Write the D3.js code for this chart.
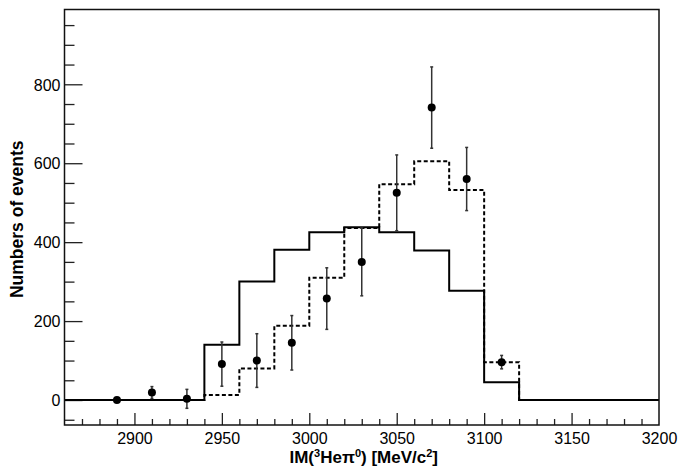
<!DOCTYPE html>
<html>
<head>
<meta charset="utf-8">
<script src="https://cdn.jsdelivr.net/npm/d3@7"></script>
<style>
  body { margin: 0; background: #fff; }
  svg { display: block; }
  text { font-family: "Liberation Sans", Arial, Helvetica, sans-serif; fill: #000; }
</style>
</head>
<body>
<svg id="chart" width="683" height="468"></svg>
<script>
// bins (low edges, width 20 MeV/c2)
const binLow = [2860, 2880, 2900, 2920, 2940, 2960, 2980, 3000, 3020, 3040, 3060, 3080, 3100, 3120, 3140, 3160, 3180];
const binWidth = 20;
// solid histogram
const solidCounts = [0, 0, 0, 0, 140, 300, 381, 425, 438, 425, 379, 277, 45, 0, 0, 0, 0];
// dashed histogram
const dashedCounts = [0, 0, 0, 0, 13, 80, 188, 310, 436, 547, 605, 532, 96, 0, 0, 0, 0];

// data points with errors
const dataX = [2890, 2910, 2930, 2950, 2970, 2990, 3010, 3030, 3050, 3070, 3090, 3110];
const dataY = [0, 19, 3, 91, 100, 145, 257, 350, 525, 741, 560, 96];
const dataErr = [0, 15, 24, 56, 68, 69, 78, 86, 96, 103, 80, 17];

const xTicks = [2900, 2950, 3000, 3050, 3100, 3150, 3200];
const yTicks = [0, 200, 400, 600, 800];

const svg = d3.select("#chart");
const mLeft = 64.5, mRight = 659, mTop = 9.5, mBottom = 425;

const x = d3.scaleLinear().domain([2860, 3200]).range([mLeft, mRight]);
const y = d3.scaleLinear().domain([-63.3, 989.5]).range([mBottom, mTop]);

// axes ticks (inside the frame)
const gx = svg.append("g").attr("transform", `translate(0,${mBottom})`)
  .call(d3.axisBottom(x).tickValues(d3.range(2870, 3200, 10)).tickSize(0).tickFormat(""));
gx.select(".domain").remove();
gx.selectAll(".tick line")
  .attr("y2", d => (d % 50 === 0 ? -12 : -6))
  .attr("stroke", "#222").attr("stroke-width", 1.3);

svg.append("g").attr("transform", `translate(0,${mBottom})`)
  .call(d3.axisBottom(x).tickValues(xTicks).tickSize(0).tickPadding(0).tickFormat(d3.format("d")))
  .call(g => g.select(".domain").remove())
  .selectAll("text")
  .attr("y", 18.5).attr("dy", 0)
  .style("font-size", "16px");

const gy = svg.append("g").attr("transform", `translate(${mLeft},0)`)
  .call(d3.axisLeft(y).tickValues(d3.range(-50, 1000, 50)).tickSize(0).tickFormat(""));
gy.select(".domain").remove();
gy.selectAll(".tick line")
  .attr("x2", d => (d % 200 === 0 ? 18 : 10))
  .attr("stroke", "#222").attr("stroke-width", 1.3);

svg.append("g").attr("transform", `translate(${mLeft},0)`)
  .call(d3.axisLeft(y).tickValues(yTicks).tickSize(0).tickPadding(4).tickFormat(d3.format("d")))
  .call(g => g.select(".domain").remove())
  .selectAll("text")
  .attr("dy", "0.36em")
  .style("font-size", "16px");

// histograms as steps
function stepPoints(counts) {
  const pts = binLow.map((b, i) => [b, counts[i]]);
  pts.push([binLow[binLow.length - 1] + binWidth, counts[counts.length - 1]]);
  return pts;
}
const step = d3.line().x(d => x(d[0])).y(d => y(d[1])).curve(d3.curveStepAfter);

svg.append("path")
  .attr("d", step(stepPoints(solidCounts)))
  .attr("fill", "none").attr("stroke", "#000").attr("stroke-width", 2);

svg.append("path")
  .attr("d", step(stepPoints(dashedCounts)))
  .attr("fill", "none").attr("stroke", "#000").attr("stroke-width", 2)
  .attr("stroke-dasharray", "4,2.5");

// error bars
const pts = dataX.map((v, i) => ({ x: v, y: dataY[i], e: dataErr[i] }));
const eb = svg.append("g").selectAll("g").data(pts.filter(d => d.e > 0)).join("g")
  .attr("stroke", "#333").attr("stroke-width", 1.5);
eb.append("line")
  .attr("x1", d => x(d.x)).attr("x2", d => x(d.x))
  .attr("y1", d => y(d.y - d.e)).attr("y2", d => y(d.y + d.e));
eb.append("line")
  .attr("x1", d => x(d.x) - 1.5).attr("x2", d => x(d.x) + 1.5)
  .attr("y1", d => y(d.y + d.e)).attr("y2", d => y(d.y + d.e));
eb.append("line")
  .attr("x1", d => x(d.x) - 1.5).attr("x2", d => x(d.x) + 1.5)
  .attr("y1", d => y(d.y - d.e)).attr("y2", d => y(d.y - d.e));

svg.append("g").selectAll("circle").data(pts).join("circle")
  .attr("cx", d => x(d.x)).attr("cy", d => y(d.y)).attr("r", 4)
  .attr("fill", "#000");

// frame
svg.append("rect")
  .attr("x", mLeft).attr("y", mTop)
  .attr("width", mRight - mLeft).attr("height", mBottom - mTop)
  .attr("fill", "none").attr("stroke", "#111").attr("stroke-width", 1.5);

// axis titles
const xt = svg.append("text")
  .attr("x", (mLeft + mRight) / 2 + 2).attr("y", 463)
  .attr("text-anchor", "middle")
  .style("font-size", "17px").style("font-weight", "bold");
xt.append("tspan").text("IM(");
xt.append("tspan").attr("dy", -6).style("font-size", "11px").text("3");
xt.append("tspan").attr("dy", 6).text("He\u03c0");
xt.append("tspan").attr("dy", -6).style("font-size", "11px").text("0");
xt.append("tspan").attr("dy", 6).text(") [MeV/c");
xt.append("tspan").attr("dy", -6).style("font-size", "11px").text("2");
xt.append("tspan").attr("dy", 6).text("]");

svg.append("text")
  .attr("transform", `translate(23,${(mTop + mBottom) / 2 + 2}) rotate(-90)`)
  .attr("text-anchor", "middle")
  .style("font-size", "17.5px").style("font-weight", "bold")
  .text("Numbers of events");
</script>
</body>
</html>
